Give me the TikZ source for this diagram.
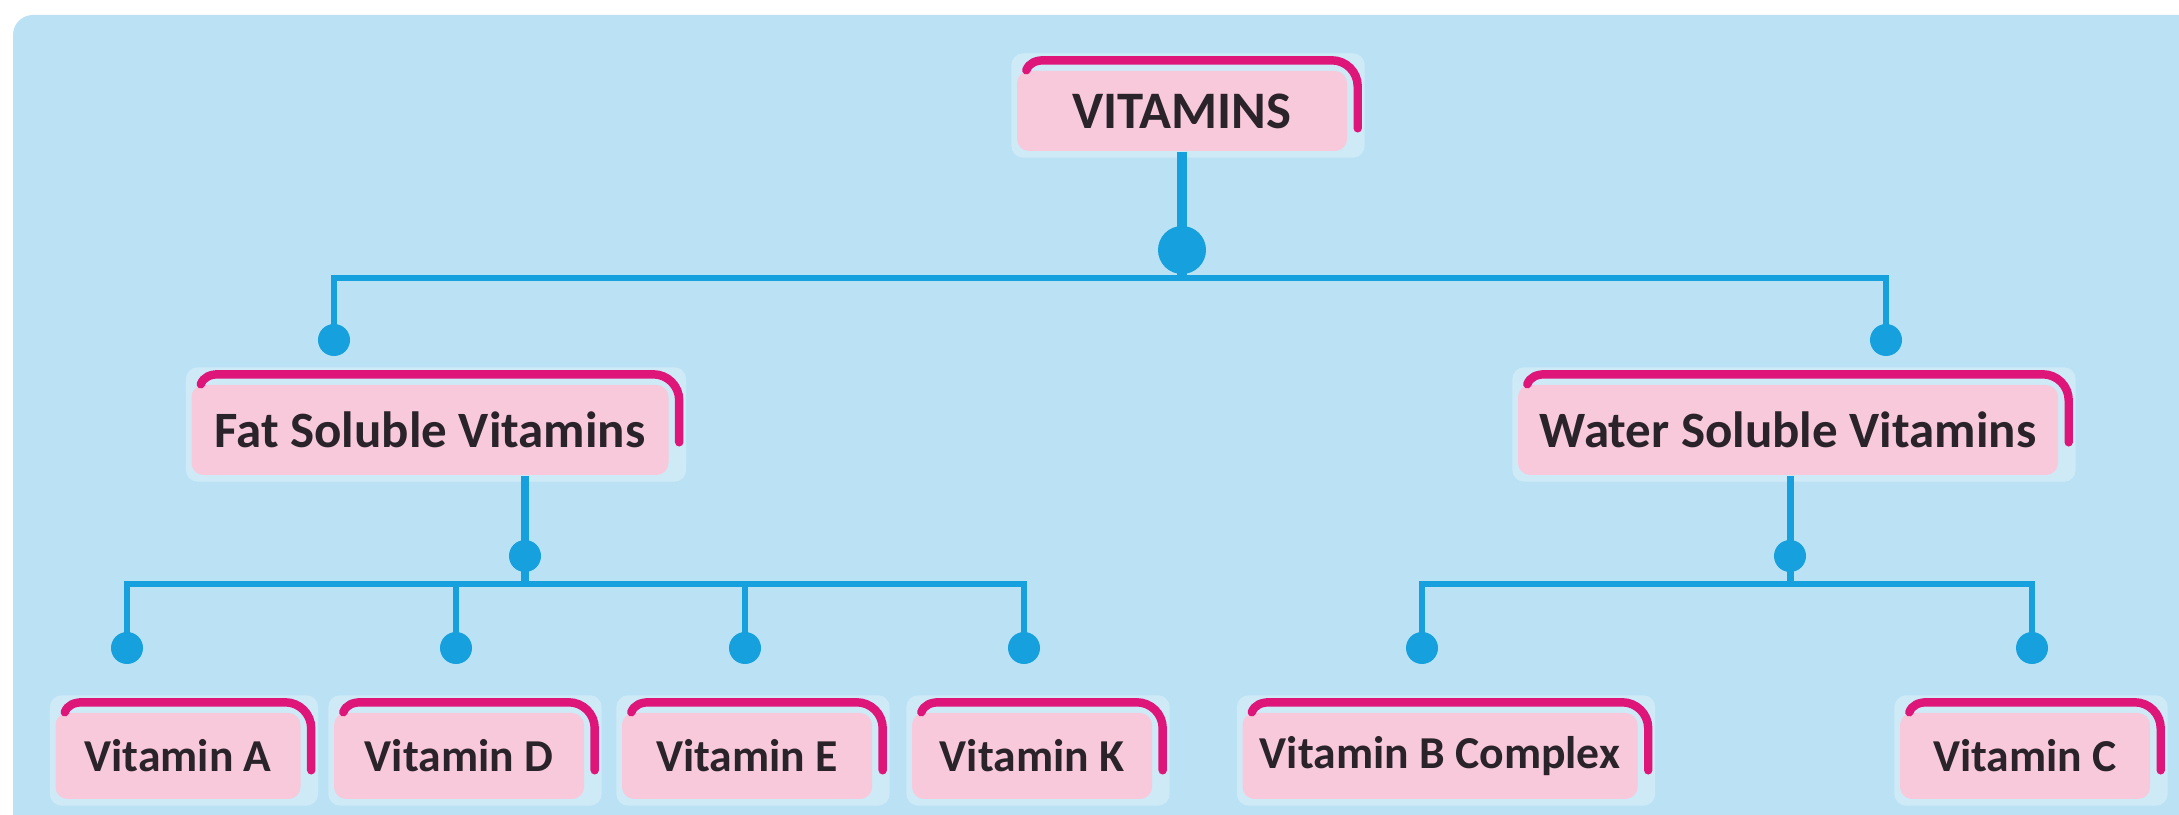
\documentclass[tikz,border=0pt]{standalone}
\usepackage{fontspec}
\setmainfont{Carlito}
\usepackage{tikz}
\usetikzlibrary{backgrounds}

\definecolor{skyback}{RGB}{186,226,244}
\definecolor{boxpink}{RGB}{248,201,219}
\definecolor{rimpink}{RGB}{222,22,122}
\definecolor{linkblue}{RGB}{22,160,222}
\definecolor{inkgray}{RGB}{42,36,42}

\tikzset{
	vbox/.style={fill=boxpink, rounded corners=0.12cm, inner sep=0pt, text=inkgray,
		font=\bfseries\fontsize{13}{15}\selectfont, minimum height=0.86cm},
	halo/.style={fill=white, opacity=0.3, rounded corners=0.12cm},
	rim/.style={draw=rimpink, line width=2.4pt, line cap=round},
	link/.style={draw=linkblue, line width=1.6pt},
	blob/.style={fill=linkblue}
}

\begin{document}
\begin{tikzpicture}
	\useasboundingbox (0,0) rectangle (21.79,-8.15);

	\node[vbox, minimum width=3.30cm, minimum height=0.80cm, font=\bfseries\fontsize{15}{18}\selectfont] (vitamins) at (11.82,-1.11) {VITAMINS};

	\node[vbox, minimum width=4.77cm, minimum height=0.90cm, font=\bfseries\fontsize{14.5}{17}\selectfont] (fatsol) at (4.30,-4.30) {Fat Soluble Vitamins};
	\node[vbox, minimum width=5.40cm, minimum height=0.90cm, font=\bfseries\fontsize{14.5}{17}\selectfont] (watsol) at (17.88,-4.30) {Water Soluble Vitamins};

	\node[vbox, minimum width=2.45cm] (vita) at (1.78,-7.56) {Vitamin A};
	\node[vbox, minimum width=2.50cm] (vitd) at (4.59,-7.56) {Vitamin D};
	\node[vbox, minimum width=2.50cm] (vite) at (7.47,-7.56) {Vitamin E};
	\node[vbox, minimum width=2.40cm] (vitk) at (10.32,-7.56) {Vitamin K};
	\node[vbox, minimum width=3.95cm] (vitb) at (14.40,-7.56) {Vitamin B Complex};
	\node[vbox, minimum width=2.50cm] (vitc) at (20.25,-7.56) {Vitamin C};

	\begin{pgfonlayer}{background}
		\fill[white] (0,0) rectangle (21.79,-8.15);
		\fill[skyback, rounded corners=0.2cm] (0.13,-0.15) rectangle (22.3,-8.6);
		\foreach \n in {vitamins,fatsol,watsol,vita,vitd,vite,vitk,vitb,vitc}
		{
			\fill[halo] ([shift={(-0.05,0.17)}]\n.north west) rectangle ([shift={(0.17,-0.06)}]\n.south east);
		}
	\end{pgfonlayer}

	\foreach \n in {vitamins,fatsol,watsol,vita,vitd,vite,vitk,vitb,vitc}
	{
		\draw[rim] ([shift={(0.10,0.0)}]\n.north west) to[out=70,in=180] ([shift={(0.28,0.10)}]\n.north west)
			-- ([shift={(-0.16,0.10)}]\n.north east) arc[start angle=90, end angle=0, radius=0.26]
			-- ([shift={(0.10,-0.58)}]\n.north east);
	}

	\coordinate (dtop) at (11.82,-2.50);
	\coordinate (jtop) at (11.82,-2.78);
	\coordinate (dfat) at (3.34,-3.40);
	\coordinate (dwat) at (18.86,-3.40);
	\coordinate (dfs) at (5.25,-5.56);
	\coordinate (jfat) at (5.25,-5.84);
	\coordinate (dws) at (17.90,-5.56);
	\coordinate (jwat) at (17.90,-5.84);
	\coordinate (da) at (1.27,-6.48);
	\coordinate (dd) at (4.56,-6.48);
	\coordinate (de) at (7.45,-6.48);
	\coordinate (dk) at (10.24,-6.48);
	\coordinate (db) at (14.22,-6.48);
	\coordinate (dc) at (20.32,-6.48);

	\draw[link, line width=2.6pt] (vitamins.south) -- (jtop);
	\draw[link] (dfat) |- (jtop) -| (dwat);
	\draw[link, line width=2pt] (jfat |- fatsol.south) -- (jfat);
	\draw[link] (da) |- (jfat) -| (dk);
	\draw[link] (dd) -- (dd |- jfat);
	\draw[link] (de) -- (de |- jfat);
	\draw[link, line width=2pt] (jwat |- watsol.south) -- (jwat);
	\draw[link] (db) |- (jwat) -| (dc);

	\fill[blob] (dtop) circle (0.24);
	\foreach \d in {dfat,dwat,dfs,dws,da,dd,de,dk,db,dc}
	{
		\fill[blob] (\d) circle (0.16);
	}
\end{tikzpicture}
\end{document}
